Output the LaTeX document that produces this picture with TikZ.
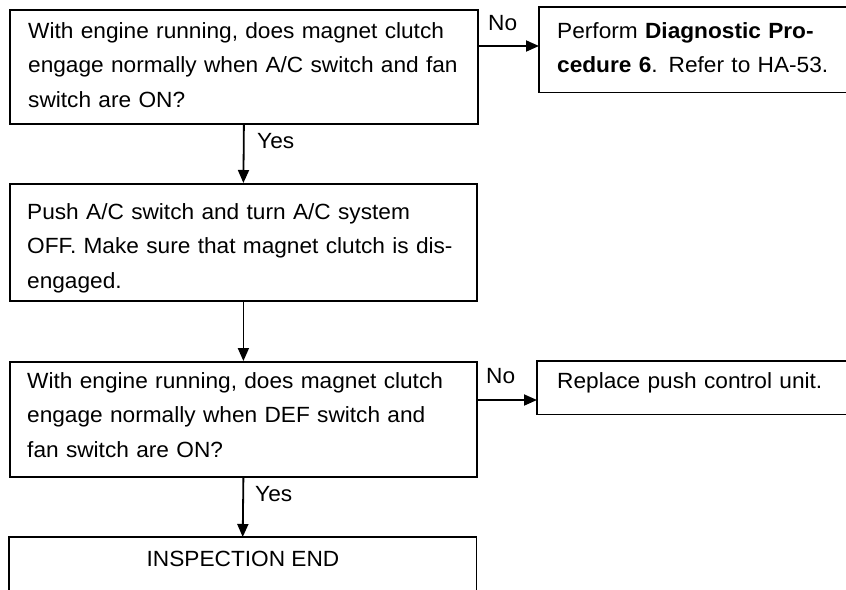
\documentclass[tikz,border=0pt]{standalone}
\usepackage{fontspec}
\setmainfont[FakeStretch=1.03]{Liberation Sans}
\usetikzlibrary{arrows.meta}
\begin{document}
\begin{tikzpicture}[x=1pt,y=-1pt,
  box/.style={draw, line width=1.8pt, inner sep=0pt, anchor=north west},
  openbox/.style={inner sep=0pt, anchor=north west},
  edge/.style={line width=1.8pt},
  txt/.style={inner sep=0pt, anchor=base west, align=left, text width=#1, font=\fontsize{22}{34.5}\selectfont},
  txt/.default=470pt,
  lbl/.style={inner sep=0pt, anchor=base west, font=\fontsize{22}{25}\selectfont},
  arr/.style={line width=1.8pt, -{Triangle[length=13pt,width=11pt]}}]
\useasboundingbox (0,0) rectangle (846,589);
\clip (0,0) rectangle (846,589);
\fill[white] (0,0) rectangle (846,589);
% boxes
\node[box, minimum width=468pt, minimum height=114pt] (q1) at (9,9) {};
\node[openbox, minimum width=320pt, minimum height=85pt] (r1) at (539,7) {};
\draw[edge] (r1.north east) -- (r1.north west) -- (r1.south west) -- (r1.south east);
\node[box, minimum width=467pt, minimum height=117pt] (s2) at (9,183) {};
\node[box, minimum width=467pt, minimum height=115pt] (q3) at (9,361) {};
\node[openbox, minimum width=320pt, minimum height=53pt] (r3) at (537,361) {};
\draw[edge] (r3.north east) -- (r3.north west) -- (r3.south west) -- (r3.south east);
\node[openbox, minimum width=467pt, minimum height=80pt] (e4) at (9,537) {};
\draw[edge] (e4.south west) -- (e4.north west) -- (e4.north east) -- (e4.south east);
% texts
\node[txt] (t1) at (28,38) {With engine running, does magnet clutch\\engage normally when A/C switch and fan\\switch are ON?};
\node[txt=295pt] (tr1) at (557,38) {Perform \textbf{Diagnostic Pro-}\\\textbf{cedure 6}. Refer to HA-53.};
\node[txt] (t2) at (27,219) {Push A/C switch and turn A/C system\\OFF. Make sure that magnet clutch is dis-\\engaged.};
\node[txt] (t3) at (27,388) {With engine running, does magnet clutch\\engage normally when DEF switch and\\fan switch are ON?};
\node[txt=295pt] (tr3) at (557,388) {Replace push control unit.};
\node[inner sep=0pt, anchor=base, font=\fontsize{22}{25}\selectfont] (t4) at (243,566) {INSPECTION END};
% connectors
\coordinate (n1) at ([yshift=-37pt]q1.north east);
\coordinate (n3) at ([yshift=-39pt]q3.north east);
\draw[arr] (n1) -- (n1 -| r1.west);
\draw[arr] (n3) -- (n3 -| r3.west);
\draw[arr] (q1.south) -- (s2.north);
\draw[arr] (s2.south) -- (q3.north);
\draw[arr] (q3.south) -- (e4.north);
% labels
\node[lbl] (no1) at (488,30) {No};
\node[lbl] (no3) at (486,383) {No};
\node[lbl] (yes1) at (257,148) {Yes};
\node[lbl] (yes3) at (255,501) {Yes};
\end{tikzpicture}
\end{document}
